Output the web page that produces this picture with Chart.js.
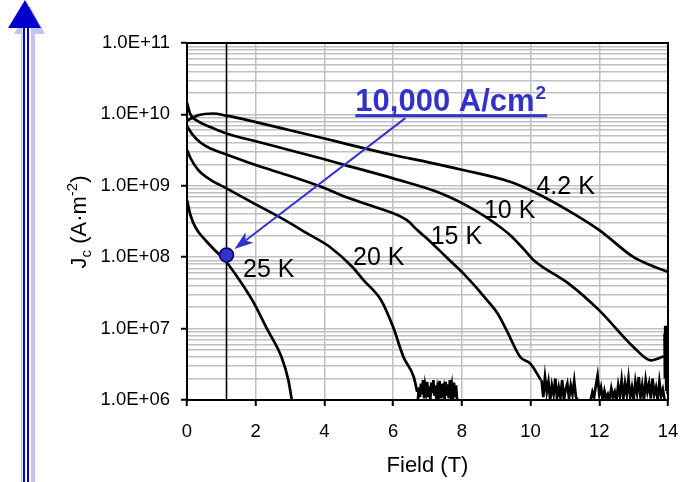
<!DOCTYPE html>
<html>
<head>
<meta charset="utf-8">
<title>Jc versus field</title>
<script src="https://cdn.jsdelivr.net/npm/chart.js@4.4.0/dist/chart.umd.min.js"></script>
<style>
    html, body { margin: 0; padding: 0; background: #fff; }
    #wrap { width: 683px; height: 482px; }
</style>
</head>
<body>
<div id="wrap"><canvas id="jcChart" width="683" height="482"></canvas></div>
<script>
// Critical current density vs applied field

const temps = ['4.2 K', '10 K', '15 K', '20 K', '25 K'];

const field42 = [0, 0.35, 0.75, 1.15, 2, 3, 4, 4.6, 6, 7, 8, 9.4, 10.1, 11.1, 12, 13, 13.5, 14];
const jc42 = [8.2e9, 9.8e9, 1.03e10, 9.6e9, 7.8e9, 6.0e9, 4.6e9, 3.9e9, 2.7e9, 2.15e9, 1.68e9, 1.14e9, 8.2e8, 4.5e8, 2.4e8, 1.0e8, 7.7e7, 6.2e7];

const field10 = [0, 0.1, 0.3, 0.7, 1.15, 2, 3, 4, 4.6, 6, 7.4, 8.4, 9.0, 9.4, 9.8, 10.1, 11.1, 12, 13, 13.5, 13.88];
const jc10 = [1.45e10, 1.0e10, 8.1e9, 6.6e9, 5.4e9, 4.2e9, 3.15e9, 2.35e9, 1.95e9, 1.27e9, 7.8e8, 4.5e8, 2.9e8, 2.05e8, 1.3e8, 9.0e7, 4.3e7, 1.8e7, 5.5e6, 3.6e6, 4.1e6];

const field15 = [0, 0.15, 0.4, 0.7, 1.15, 2, 3, 4, 4.6, 5.45, 6.4, 6.7, 7.0, 7.55, 8.05, 8.8, 9.05, 9.3, 9.7, 10.0, 10.3];
const jc15 = [6.9e9, 5.3e9, 4.0e9, 3.3e9, 2.75e9, 1.95e9, 1.37e9, 9.3e8, 7.0e8, 5.1e8, 3.3e8, 2.4e8, 1.8e8, 1.0e8, 5.9e7, 2.3e7, 1.6e7, 9.5e6, 4.0e6, 3.2e6, 1.9e6];

const field20 = [0, 0.1, 0.33, 0.7, 1.15, 2, 2.85, 3.5, 4.15, 4.8, 5.15, 5.65, 6.0, 6.3, 6.6, 6.7];
const jc20 = [3.2e9, 2.45e9, 1.66e9, 1.2e9, 9.2e8, 5.5e8, 3.3e8, 2.15e8, 1.4e8, 7.4e7, 4.7e7, 2.5e7, 1.05e7, 4.0e6, 2.1e6, 1.3e6];

const field25 = [0, 0.1, 0.25, 0.55, 0.85, 1.15, 1.5, 1.9, 2.35, 2.75, 2.95, 3.05];
const jc25 = [6.3e8, 3.9e8, 2.6e8, 1.7e8, 1.2e8, 8.5e7, 5.0e7, 2.5e7, 9.5e6, 4.0e6, 1.9e6, 1.0e6];

// noise floor once the sample has gone normal
const noise20Field = [6.72, 6.75, 6.78, 6.81, 6.84, 6.87, 6.90, 6.93, 6.96, 6.99, 7.02, 7.05, 7.08, 7.11, 7.14, 7.17, 7.20, 7.23, 7.26, 7.29,
    7.32, 7.35, 7.38, 7.41, 7.44, 7.47, 7.50, 7.53, 7.56, 7.59, 7.62, 7.65, 7.68, 7.71, 7.74, 7.77, 7.80, 7.83, 7.86];
const noise20Jc = [1.0e6, 1.5e6, 1.1e6, 1.7e6, 1.2e6, 1.9e6, 1.05e6, 1.6e6, 1.3e6, 1.8e6, 1.1e6, 1.55e6, 1.0e6, 1.75e6, 1.25e6, 1.9e6, 1.15e6, 1.6e6, 1.0e6, 1.45e6,
    1.2e6, 1.85e6, 1.05e6, 1.7e6, 1.3e6, 1.5e6, 1.0e6, 1.8e6, 1.15e6, 1.65e6, 1.05e6, 1.9e6, 1.2e6, 1.55e6, 1.0e6, 1.75e6, 1.1e6, 1.6e6, 1.0e6];

const noise15aField = [10.32, 10.37, 10.42, 10.47, 10.52, 10.57, 10.62, 10.67, 10.72, 10.77, 10.82, 10.87, 10.92, 10.97, 11.02, 11.07, 11.12, 11.17, 11.22, 11.27, 11.32, 11.37];
const noise15aJc = [1.9e6, 1.1e6, 2.1e6, 1.3e6, 1.8e6, 1.0e6, 1.6e6, 1.2e6, 2.0e6, 1.05e6, 1.5e6, 1.1e6, 1.9e6, 1.0e6, 1.4e6, 1.7e6, 1.05e6, 1.6e6, 1.2e6, 1.85e6, 1.1e6, 1.0e6];

const noise15bField = [11.75, 11.8, 11.85, 11.9, 11.95, 12.0, 12.05, 12.1, 12.15, 12.2, 12.25, 12.3, 12.35, 12.4, 12.45, 12.5, 12.55, 12.6, 12.65, 12.7, 12.75, 12.8,
    12.85, 12.9, 12.95, 13.0, 13.05, 13.1, 13.15, 13.2, 13.25, 13.3, 13.35, 13.4, 13.45, 13.5, 13.55, 13.6, 13.65, 13.7, 13.75, 13.8, 13.85, 13.9];
const noise15bJc = [1.0e6, 1.3e6, 1.1e6, 1.6e6, 2.2e6, 1.2e6, 1.5e6, 1.0e6, 1.35e6, 1.05e6, 1.2e6, 1.0e6, 1.45e6, 1.1e6, 1.3e6, 1.0e6, 1.6e6, 1.15e6, 1.9e6, 1.05e6, 1.7e6, 1.2e6,
    2.0e6, 1.1e6, 1.5e6, 1.0e6, 1.8e6, 1.25e6, 2.1e6, 1.1e6, 1.6e6, 1.0e6, 1.9e6, 1.3e6, 1.7e6, 1.05e6, 2.0e6, 1.2e6, 1.5e6, 1.0e6, 1.8e6, 1.15e6, 1.4e6, 1.0e6];

const noise10Field = [13.9, 13.91, 13.92, 13.93, 13.94, 13.95, 13.96, 13.97, 13.98, 13.99, 14.0];
const noise10Jc = [8.5e6, 2.0e6, 1.1e7, 3.0e6, 9.0e6, 1.4e6, 6.5e6, 2.5e6, 1.0e7, 1.2e6, 5.0e6];

// 25 K operating point and the marker line through it
const markerField = [1.15];
const markerJc = [1.07e8];
const guideField = [1.15, 1.15];
const guideJc = [1e6, 1e11];

const decades = [1e6, 1e7, 1e8, 1e9, 1e10, 1e11];
const decadeLabels = ['1.0E+06', '1.0E+07', '1.0E+08', '1.0E+09', '1.0E+10', '1.0E+11'];
const fieldTicks = [0, 2, 4, 6, 8, 10, 12, 14];

// label placement in data units [field, Jc]
const labelSpots = [[11.02, 9.5e8], [9.39, 4.4e8], [7.84, 1.9e8], [5.58, 9.8e7], [2.38, 6.5e7]];
const noteAnchor = [4.9, 1.11e10];

const FONT = 'Arial, "Liberation Sans", sans-serif';
const BLUE = '#3333cc';

function toPoints(xs, ys) {
    return xs.map((x, i) => ({ x: x, y: ys[i] }));
}

function curve(xs, ys, smooth) {
    return {
        data: toPoints(xs, ys),
        showLine: true,
        borderColor: '#000',
        borderWidth: 2.7,
        pointRadius: 0,
        cubicInterpolationMode: smooth ? 'monotone' : 'default',
        tension: 0
    };
}

function isDecade(v) {
    const l = Math.log10(v);
    return Math.abs(l - Math.round(l)) < 1e-6;
}

function buildYTicks() {
    const ticks = [];
    decades.forEach((d, i) => {
        ticks.push({ value: d });
        if (i < decades.length - 1) {
            for (let m = 2; m <= 9; m++) ticks.push({ value: d * m });
        }
    });
    return ticks;
}

function drawBigArrow(ctx) {
    ctx.save();
    ctx.fillStyle = '#c4c4f4';
    ctx.fillRect(21, 26, 14, 456);
    ctx.beginPath();
    ctx.moveTo(30, 6); ctx.lineTo(45, 34); ctx.lineTo(14, 34);
    ctx.closePath(); ctx.fill();
    ctx.fillStyle = '#fff';
    ctx.fillRect(22.5, 26, 8.5, 456);
    ctx.fillStyle = '#0000cc';
    ctx.fillRect(23, 26, 2, 456);
    ctx.fillRect(27, 26, 2, 456);
    ctx.beginPath();
    ctx.moveTo(25, 0); ctx.lineTo(41, 28); ctx.lineTo(8, 28);
    ctx.closePath(); ctx.fill();
    ctx.restore();
}

function drawArrow(ctx, x0, y0, x1, y1) {
    const ang = Math.atan2(y1 - y0, x1 - x0);
    const len = 19, half = 6.5, notch = 5;
    ctx.save();
    ctx.strokeStyle = BLUE;
    ctx.lineWidth = 2;
    ctx.beginPath();
    ctx.moveTo(x0, y0);
    ctx.lineTo(x1 - Math.cos(ang) * (len - notch), y1 - Math.sin(ang) * (len - notch));
    ctx.stroke();
    ctx.translate(x1, y1);
    ctx.rotate(ang);
    ctx.beginPath();
    ctx.moveTo(0, 0); ctx.lineTo(-len, -half); ctx.lineTo(-len + notch, 0); ctx.lineTo(-len, half);
    ctx.closePath();
    ctx.fillStyle = BLUE;
    ctx.fill();
    ctx.restore();
}

function drawYTitle(ctx, cx, cy) {
    // J_c (A·m^-2) with sub/superscript pieces: [text, size, baseline shift]
    const parts = [['J', 22, 8], ['c', 15, 13], [' (A\u00b7m', 22, 8], ['-2', 15, -1], [')', 22, 8]];
    ctx.save();
    ctx.translate(cx, cy);
    ctx.rotate(-Math.PI / 2);
    ctx.fillStyle = '#000';
    ctx.textAlign = 'left';
    ctx.textBaseline = 'alphabetic';
    let total = 0;
    parts.forEach(p => { ctx.font = p[1] + 'px ' + FONT; total += ctx.measureText(p[0]).width; });
    let x = -total / 2;
    parts.forEach(p => {
        ctx.font = p[1] + 'px ' + FONT;
        ctx.fillText(p[0], x, p[2]);
        x += ctx.measureText(p[0]).width;
    });
    ctx.restore();
}

const overlayPlugin = {
    id: 'overlay',
    beforeDraw(chart) {
        drawBigArrow(chart.ctx);
    },
    afterDraw(chart) {
        const ctx = chart.ctx;
        const xs = chart.scales.x, ys = chart.scales.y;
        const area = chart.chartArea;
        ctx.save();

        ctx.strokeStyle = '#000';
        ctx.lineWidth = 2;
        ctx.strokeRect(area.left, area.top, area.right - area.left, area.bottom - area.top);

        // temperature labels
        ctx.fillStyle = '#000';
        ctx.font = '25px ' + FONT;
        ctx.textAlign = 'center';
        ctx.textBaseline = 'middle';
        labelSpots.forEach((p, i) => {
            ctx.fillText(temps[i], xs.getPixelForValue(p[0]), ys.getPixelForValue(p[1]));
        });

        // axis titles
        ctx.font = '22px ' + FONT;
        ctx.fillText('Field (T)', (area.left + area.right) / 2, 466);
        drawYTitle(ctx, 78, 222);

        // 10,000 A/cm2 note with pointer
        const tx = xs.getPixelForValue(noteAnchor[0]);
        const ty = ys.getPixelForValue(noteAnchor[1]);
        ctx.fillStyle = BLUE;
        ctx.textAlign = 'left';
        ctx.textBaseline = 'alphabetic';
        ctx.font = 'bold 31px ' + FONT;
        const main = '10,000 A/cm';
        ctx.fillText(main, tx, ty);
        const w1 = ctx.measureText(main).width;
        ctx.font = 'bold 19px ' + FONT;
        ctx.fillText('2', tx + w1 + 1, ty - 12);
        const w2 = ctx.measureText('2').width;
        ctx.fillRect(tx, ty + 3, w1 + w2 + 2, 3);

        const mx = xs.getPixelForValue(markerField[0]);
        const my = ys.getPixelForValue(markerJc[0]);
        const sx = tx + 50, sy = ty + 7;
        const d = Math.hypot(mx - sx, my - sy);
        const gap = 10;
        drawArrow(ctx, sx, sy, mx - (mx - sx) / d * gap, my - (my - sy) / d * gap);

        ctx.restore();
    }
};

const datasets = [
    {
        data: toPoints(markerField, markerJc),
        pointRadius: 7,
        pointBackgroundColor: BLUE,
        pointBorderColor: '#000066',
        pointBorderWidth: 1.5,
        showLine: false
    },
    Object.assign(curve(guideField, guideJc, false), { borderWidth: 1.6 }),
    curve(field42, jc42, true),
    curve(field10, jc10, true),
    curve(field15, jc15, true),
    curve(field20, jc20, true),
    curve(field25, jc25, true),
    curve(noise20Field, noise20Jc, false),
    curve(noise15aField, noise15aJc, false),
    curve(noise15bField, noise15bJc, false),
    curve(noise10Field, noise10Jc, false)
];

new Chart(document.getElementById('jcChart'), {
    type: 'scatter',
    data: { datasets: datasets },
    options: {
        responsive: false,
        animation: false,
        events: [],
        layout: { padding: { left: 100, top: 43, right: 15, bottom: 0 } },
        plugins: {
            legend: { display: false },
            tooltip: { enabled: false }
        },
        scales: {
            x: {
                type: 'linear',
                min: 0,
                max: 14,
                afterBuildTicks: s => { s.ticks = fieldTicks.map(v => ({ value: v })); },
                ticks: { color: '#000', padding: 15, font: { family: FONT, size: 18.5 } },
                grid: { color: '#c0c0c0', lineWidth: 1.5, tickColor: '#000', tickLength: 6, tickWidth: 2 },
                border: { color: '#000', width: 2 },
                afterFit: s => {
                    s.height = 82;
                    s.paddingLeft = 0;
                    s.paddingRight = 0;
                }
            },
            y: {
                type: 'logarithmic',
                min: 1e6,
                max: 1e11,
                afterBuildTicks: s => { s.ticks = buildYTicks(); },
                ticks: {
                    autoSkip: false,
                    color: '#000',
                    padding: 11,
                    font: { family: FONT, size: 18.5 },
                    callback: v => {
                        const i = decades.findIndex(d => Math.abs(d - v) / d < 1e-6);
                        return i >= 0 ? decadeLabels[i] : '';
                    }
                },
                grid: {
                    color: '#c0c0c0',
                    lineWidth: 1.5,
                    tickColor: c => (c.tick && isDecade(c.tick.value)) ? '#000' : 'rgba(0,0,0,0)',
                    tickLength: 6,
                    tickWidth: 2
                },
                border: { color: '#000', width: 2 },
                afterFit: s => { s.width = 87; }
            }
        }
    },
    plugins: [overlayPlugin]
});
</script>
</body>
</html>
